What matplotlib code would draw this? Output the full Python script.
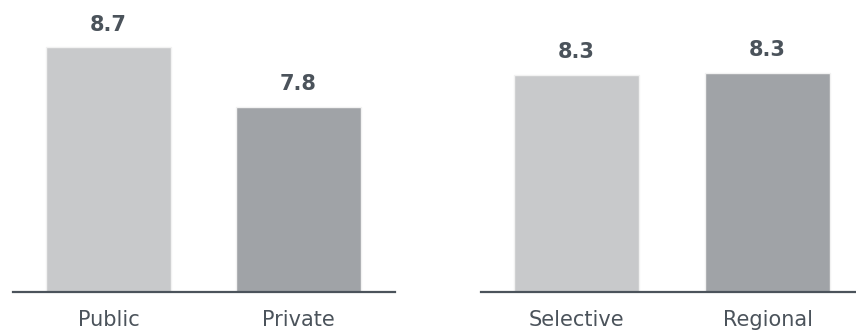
import matplotlib.pyplot as plt

# scores by school type and by school location
type_labels = ['Public', 'Private']
type_scores = [8.7, 7.8]
location_labels = ['Selective', 'Regional']
location_scores = [8.28, 8.31]

bar_colors = ['#c8c9cb', '#a0a3a7']
text_color = '#4b535b'

fig = plt.figure(figsize=(8.56, 3.32), dpi=100)
ax_left = fig.add_axes([13 / 856, 40 / 332, 382 / 856, 292 / 332])
ax_right = fig.add_axes([481 / 856, 40 / 332, 375 / 856, 292 / 332])


def draw_panel(ax, labels, scores, xlim, width):
    xs = range(len(labels))
    bars = ax.bar(xs, scores, width=width, color=bar_colors,
                  edgecolor='#f2f2f2', linewidth=1, bottom=0)
    for bar, val in zip(bars, scores):
        ax.annotate(f'{val:.1f}', (bar.get_x() + bar.get_width() / 2, val),
                    xytext=(0, 9), textcoords='offset points',
                    ha='center', va='bottom', fontsize=15,
                    fontweight='bold', color=text_color)
    ax.set_ylim(5, 9.41)
    ax.set_xlim(*xlim)
    ax.set_xticks(list(xs))
    ax.set_xticklabels(labels, fontsize=15, color=text_color)
    ax.tick_params(axis='x', length=0, pad=13)
    ax.set_yticks([])
    for side in ['top', 'left', 'right']:
        ax.spines[side].set_visible(False)
    ax.spines['bottom'].set_color(text_color)
    ax.spines['bottom'].set_linewidth(1.6)


draw_panel(ax_left, type_labels, type_scores, (-0.503, 1.508), 0.658)
draw_panel(ax_right, location_labels, location_scores, (-0.5, 1.463), 0.654)

fig.savefig('out.png', dpi=100)
